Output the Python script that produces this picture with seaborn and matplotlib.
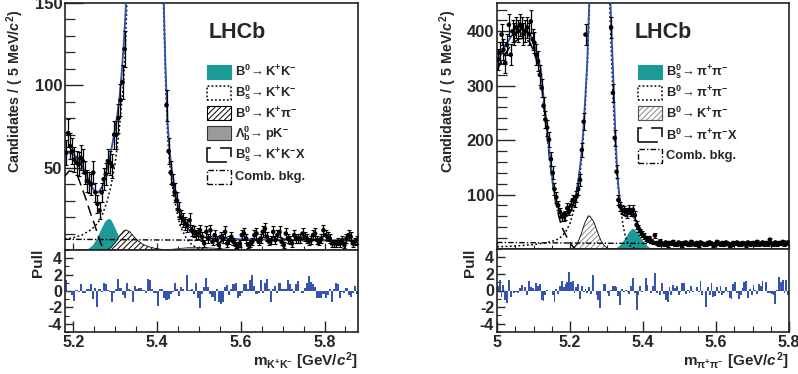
import numpy as np
import matplotlib
matplotlib.use("Agg")
import matplotlib.pyplot as plt
import seaborn as sns
from matplotlib.patches import Rectangle
from matplotlib.ticker import MultipleLocator, FormatStrFormatter

# ---------------- data : K+K- spectrum ----------------
kk_first_center = 5.1825
bin_width = 0.005
kk_counts = [
    59, 71, 63, 60, 55, 53, 52, 56, 54, 47, 42, 41, 40, 47, 35, 28, 24, 35, 43, 46,
    54, 53, 51, 70, 70, 80, 91, 102, 122,
    175, 240, 330, 450, 590, 740, 870, 960, 1000, 980, 900, 770, 620, 480, 370, 290,
    230, 185, 170,
    88, 60, 47, 40, 35, 30, 24, 20, 18, 16, 15, 18, 12, 11, 9, 10, 12, 8, 4, 11, 7, 12,
    5, 9, 6, 3, 8, 7, 11, 4, 6, 8,
    5, 3, 2, 4, 9, 10, 7, 3, 4, 5,
    9, 10, 5, 7, 11, 13, 8, 5, 6, 11,
    6, 9, 11, 5, 3, 10, 7, 6, 4, 9,
    7, 7, 7, 10, 8, 7, 5, 6, 9, 10,
    6, 5, 7, 12, 9, 8, 7, 4, 4, 4,
    5, 4, 6, 3, 7, 9, 8, 4, 5, 6,
]
kk_pull = [
    1.4, -0.1, 0.0, -0.5, -1.2, 0.1, -0.1, 0.8, -0.2, -0.3, 0.3, 0.2, 0.9, -1.0, 0.4,
    -2.0, 0.3, -0.1, 1.0, 0.9, 0.1, -0.1, -1.3, -0.3, 0.3, 1.5, 0.4, -0.5, -0.9, 1.0,
    0.2, 0.1, -1.4, 0.6, 0.2,
    0.4, 0.4, 0.1, -0.3, 1.5, 1.4, 0.3, -0.2, -0.3, -1.8, 0.2, 0.3, -0.8, -1.1, -1.0,
    -0.4, -0.1, 1.0, 0.3, -0.6, 0.5, 0.3, 0.0, 2.0, 0.1, 0.2,
    -0.4, 1.0, -0.9, -2.1, -0.4, 0.5, 1.6, 0.5, -0.4, -0.7, -1.2, 0.2,
    -1.4, -1.6, -1.4, 0.5, 0.7, -0.5, 0.3, 0.9, 1.0, -0.8, -0.6, -0.2, 0.8, 0.9, 0.2,
    1.3, 2.0, 0.6, -0.4, -0.3, 1.4, -0.2, 1.0, 1.5, 0.2, -1.4, 0.2, 0.6, -0.3, 1.0,
    0.3, 0.3, 0.3, 1.3, 0.8, 0.3,
    -0.3, 0.9, 1.2, 0.0, -0.3, 0.4, 1.0, 1.8, 1.1, 0.8, 0.5, -0.8, -0.9, -0.9, -0.4,
    -0.9, -0.5, 0.2, -1.3, 0.3, 1.0, 0.9, -0.8, -0.1, -0.2, 0.4, -0.5, -0.7, -0.2, 0.6,
    -0.4,
]
# fit curves (mass, candidates)
kk_total_m = [5.18, 5.19, 5.20, 5.21, 5.22, 5.23, 5.24, 5.25, 5.26, 5.27, 5.28, 5.29, 5.30,
              5.305, 5.31, 5.315, 5.32, 5.325, 5.33, 5.34, 5.36, 5.37, 5.38, 5.40, 5.41,
              5.415, 5.42, 5.425, 5.43, 5.435, 5.44, 5.445, 5.45, 5.455, 5.46, 5.47, 5.48,
              5.49, 5.50, 5.52, 5.55, 5.60, 5.70, 5.80, 5.88]
kk_total_y = [60, 59, 58, 56, 52, 46, 40, 36, 35, 39, 49, 60, 74,
              82, 92, 106, 124, 146, 190, 330, 950, 1050, 950, 360, 230,
              160, 112, 78, 60, 49, 41, 33, 27, 22, 19, 14, 11,
              9.2, 8.2, 7.4, 6.9, 6.5, 6.2, 6.0, 5.8]
kk_b0_m = [5.225, 5.235, 5.245, 5.255, 5.265, 5.275, 5.2835, 5.29, 5.30, 5.31, 5.32, 5.33, 5.34]
kk_b0_y = [0.0, 1.0, 3.0, 7.0, 12.5, 17.5, 19.3, 18.3, 13.0, 7.0, 2.8, 0.8, 0.0]
kk_bs_m = [5.18, 5.20, 5.22, 5.24, 5.25, 5.26, 5.27, 5.28, 5.29, 5.30, 5.31, 5.32, 5.325,
           5.33, 5.335, 5.34, 5.35, 5.365, 5.38, 5.395, 5.405, 5.41, 5.415, 5.42, 5.425,
           5.43, 5.435, 5.44, 5.445, 5.45, 5.455, 5.46, 5.47, 5.48, 5.49, 5.50, 5.52, 5.55]
kk_bs_y = [6.5, 7.5, 9, 12, 14, 17, 22, 29, 39, 53, 74, 102, 128,
           168, 225, 310, 560, 1000, 820, 430, 260, 200, 152, 104, 70,
           52, 42, 33, 26, 20, 15, 12, 7, 4, 2, 1, 0.3, 0.0]
kk_kpi_m = [5.28, 5.29, 5.30, 5.31, 5.32, 5.326, 5.335, 5.345, 5.355, 5.365, 5.38, 5.395, 5.41, 5.43]
kk_kpi_y = [0.0, 1.5, 4.5, 8.5, 11.5, 12.2, 11.0, 8.0, 5.5, 3.5, 2.0, 1.0, 0.4, 0.0]
kk_lb_m = [5.42, 5.45, 5.48, 5.51, 5.54, 5.57, 5.60]
kk_lb_y = [0.0, 0.8, 1.6, 1.6, 1.0, 0.4, 0.0]
kk_part_m = [5.18, 5.19, 5.20, 5.21, 5.22, 5.23, 5.24, 5.25, 5.26, 5.265, 5.27, 5.275]
kk_part_y = [45, 48, 47.5, 45, 38, 31, 23, 16, 8, 4.5, 1.5, 0.0]
kk_comb_m = [5.18, 5.30, 5.40, 5.50, 5.60, 5.70, 5.80, 5.88]
kk_comb_y = [6.5, 6.3, 6.1, 6.0, 5.9, 5.8, 5.7, 5.6]

# ---------------- data : pi+pi- spectrum ----------------
pp_first_center = 5.0025
pp_counts = [
    348, 361, 394, 366, 342, 375, 412, 357, 400, 395, 407, 400, 412, 407, 395, 400, 407,
    395, 418, 385, 379, 357, 345, 320, 296,
    263, 238, 223, 201, 165, 140, 110, 95, 80, 68, 59, 60, 62, 75, 70, 80, 90, 87, 96,
    110, 127, 182, 234, 394,
    520, 700, 950, 1200, 1400, 1550, 1600, 1550, 1400, 1150, 900, 700, 520,
    407, 287, 204, 142, 90, 78, 72, 70, 68, 66, 72, 68, 72, 62, 44, 38, 32, 27, 24, 20,
    17, 20, 15,
    12, 25, 11, 8, 14, 10, 9, 12, 7, 11,
    10, 13, 8, 9, 12, 10, 7, 11, 12, 9,
    8, 13, 10, 9, 11, 6, 12, 10, 9, 8,
    11, 12, 10, 7, 9, 13, 10, 8, 11, 9,
    12, 10, 6, 9, 11, 10, 12, 8, 9, 11,
    10, 7, 12, 9, 10, 11, 8, 13, 9, 10,
    12, 8, 11, 9, 17, 10, 9, 12, 8, 11,
    10, 13, 9, 11, 12,
]
pp_pull = [
    0.5, 1.3, -0.8, 0.7, -1.2, -1.5, 1.3, -0.8, -0.1, -0.3,
    -0.2, -0.3, 0.3, 0.7, -0.1, 0.4, -0.5, 1.1, 0.4, 0.3,
    0.1, 0.9, 0.5, 0.8, -1.2, -1.3, -0.5, 0.1, -0.1, 0.0,
    -0.6, -1.4, 0.2, -0.4, 0.5, 1.1, 0.4, 0.8, 1.0, 2.2,
    1.0, 1.1, -0.3, 0.4, 0.8, -1.0, 0.5, -0.2, 0.2, -0.3,
    0.4, -0.4, 1.9, 0.0, -0.5, -1.2, -2.1, 0.0, 0.8, 0.8,
    -0.3, -0.7, 0.1, 0.5, 0.6, 0.4, -0.7, -1.8, 0.2, -0.2,
    0.1, -0.2, -0.4, 0.6, 1.5, -0.3, -2.3, -0.5, 0.6, -0.2,
    -0.1, 1.5, 0.7, -0.1, -0.3, 0.5, 2.1, -0.3, -0.1, -0.6,
    0.9, -0.4, -1.1, -1.4, 0.4, -0.6, 0.7, 0.3, 0.6, -0.5,
    -0.2, 0.9, 0.9, -0.4, 0.1, -0.3, 0.6, -0.2, 0.0, 0.4,
    -0.2, 1.2, -0.5, -0.1, -2.0, 0.4, -0.6, 0.9, -0.8, -0.7,
    0.4, -0.3, 0.5, -0.6, -0.3, 0.4, -0.2, -0.9, -1.0, 0.8,
    1.0, -0.3, -1.0, -0.5, 0.3, 1.0, 1.2, -0.9, 0.2, -0.6,
    0.7, 0.1, -0.4, 0.8, 0.5, 1.2, -0.1, 1.0, -0.3, -0.3,
    -0.4, -0.6, -1.6, 0.1, 1.6, 1.0, 1.3, -0.3, 1.3, -0.6,
]
pp_total_m = [5.00, 5.02, 5.04, 5.06, 5.075, 5.09, 5.10, 5.11, 5.12, 5.13, 5.136, 5.145,
              5.154, 5.16, 5.168, 5.175, 5.186, 5.195, 5.205, 5.215, 5.223, 5.23, 5.236,
              5.242, 5.247, 5.253, 5.26, 5.28, 5.30, 5.306, 5.311, 5.316, 5.32, 5.325,
              5.33, 5.335, 5.34, 5.345, 5.355, 5.365, 5.375, 5.385, 5.39, 5.396, 5.405,
              5.415, 5.425, 5.44, 5.47, 5.55, 5.65, 5.80]
pp_total_y = [342, 370, 392, 402, 403, 396, 380, 358, 330, 262, 225, 170,
              115, 95, 75, 64, 59, 62, 72, 95, 127, 165, 213,
              280, 340, 460, 700, 1300, 700, 560, 450, 360, 290, 200,
              135, 98, 80, 73, 67, 64, 58, 46, 40, 33, 24,
              17, 13.5, 11.5, 10.5, 10, 9.6, 9.2]
pp_bs_m = [5.31, 5.32, 5.33, 5.34, 5.35, 5.36, 5.369, 5.375, 5.385, 5.395, 5.405, 5.415,
           5.425, 5.435]
pp_bs_y = [0.0, 1.0, 4.0, 10.0, 20.0, 31.0, 38.0, 37.0, 30.0, 19.0, 10.0, 4.0, 1.5, 0.0]
pp_b0_m = [5.00, 5.05, 5.10, 5.13, 5.15, 5.16, 5.17, 5.18, 5.19, 5.20, 5.21, 5.22, 5.227,
           5.235, 5.242, 5.248, 5.254, 5.26, 5.28, 5.30, 5.306, 5.31, 5.315, 5.32, 5.325,
           5.33, 5.335, 5.34, 5.345, 5.35, 5.355, 5.36, 5.37, 5.38, 5.40]
pp_b0_y = [4, 5.5, 8, 11, 14, 16, 19, 25, 34, 47, 70, 100, 133,
           190, 265, 345, 460, 650, 1200, 700, 520, 420, 330, 250, 175,
           125, 95, 68, 45, 28, 15, 9, 3, 1, 0]
pp_kpi_m = [5.20, 5.21, 5.22, 5.23, 5.24, 5.25, 5.255, 5.265, 5.275, 5.285, 5.295, 5.305, 5.315]
pp_kpi_y = [0.0, 2.0, 10.0, 26.0, 47.0, 61.0, 60.0, 50.0, 32.0, 15.0, 5.0, 1.0, 0.0]
pp_part_m = [5.00, 5.02, 5.04, 5.06, 5.075, 5.09, 5.10, 5.11, 5.12, 5.13, 5.14, 5.15,
             5.16, 5.168, 5.177, 5.186, 5.195, 5.205, 5.21, 5.215]
pp_part_y = [328, 356, 376, 386, 387, 380, 364, 343, 316, 250, 190, 132,
             88, 64, 41, 29, 17, 7, 3, 0]
pp_comb_m = [5.00, 5.20, 5.40, 5.60, 5.80]
pp_comb_y = [12.0, 11.0, 10.2, 9.6, 9.0]

# ---------------- style ----------------
sns.set_style("ticks")
plt.rcParams.update({
    "font.family": ["Liberation Sans", "DejaVu Sans"],
    "font.weight": "bold",
    "mathtext.fontset": "custom",
    "mathtext.rm": "Liberation Sans:bold",
    "mathtext.bf": "Liberation Sans:bold",
    "mathtext.sf": "Liberation Sans:bold",
    "mathtext.it": "Liberation Sans:bold:italic",
    "mathtext.default": "bf",
    "hatch.linewidth": 0.7,
    "axes.linewidth": 1.2,
    "axes.unicode_minus": False,
})

TEAL = "#1a9b98"
BLUE = "#2d4fae"
PULLBLUE = "#3553b0"
W, H = 798, 374

fig = plt.figure(figsize=(W / 100, H / 100), dpi=100)


def fig_axes(x0, y0, x1, y1):
    return fig.add_axes([x0 / W, 1 - y1 / H, (x1 - x0) / W, (y1 - y0) / H])


def draw_panel(ax, axp, first_center, counts, pulls, xlim, ylim, ymaj, ymin_,
               curves, fills):
    counts = np.asarray(counts, dtype=float)
    centers = first_center + bin_width * np.arange(len(counts))
    for kind, m, y, kw in fills:
        if kind == "solid":
            ax.fill_between(m, 0, y, color=kw["color"], lw=0, zorder=2)
        else:
            ax.fill_between(m, 0, y, facecolor="white", edgecolor=kw["hatch_color"],
                            hatch="//////", lw=0, zorder=2)
            ax.plot(m, y, color="black", lw=0.6, zorder=2.5)
    for m, y, kw in curves:
        sns.lineplot(x=m, y=y, ax=ax, sort=False, zorder=3, **kw)
    ax.errorbar(centers, counts, yerr=np.sqrt(counts), fmt="none", ecolor="black",
                elinewidth=0.9, capsize=1.2, capthick=0.8, zorder=4)
    sns.scatterplot(x=centers, y=counts, ax=ax, color="black", s=11,
                    edgecolor="none", zorder=5)
    ax.set_xlim(*xlim)
    ax.set_ylim(*ylim)
    ax.yaxis.set_major_locator(MultipleLocator(ymaj))
    ax.yaxis.set_minor_locator(MultipleLocator(ymin_))
    ax.xaxis.set_major_locator(MultipleLocator(0.2))
    ax.xaxis.set_minor_locator(MultipleLocator(0.05))
    ax.set_yticks([t for t in ax.get_yticks() if 0 < t <= ylim[1]])
    ax.tick_params(axis="y", which="major", direction="in", length=13, width=1.0,
                   labelsize=12, pad=2)
    ax.tick_params(axis="y", which="minor", direction="in", length=7, width=0.9)
    ax.tick_params(axis="x", which="major", direction="in", length=5, width=0.9,
                   labelbottom=False)
    ax.tick_params(axis="x", which="minor", direction="in", length=3, width=0.8)
    ax.set_xlabel("")
    ax.set_ylabel("")

    axp.bar(centers, pulls, width=bin_width, color=PULLBLUE, lw=0)
    axp.set_xlim(*xlim)
    axp.set_ylim(-5, 5)
    axp.set_yticks([-4, -2, 0, 2, 4])
    axp.yaxis.set_minor_locator(MultipleLocator(1))
    axp.xaxis.set_major_locator(MultipleLocator(0.2))
    axp.xaxis.set_minor_locator(MultipleLocator(0.05))
    axp.xaxis.set_major_formatter(FormatStrFormatter("%g"))
    axp.tick_params(axis="both", which="major", direction="in", labelsize=11.5, width=1.0)
    axp.tick_params(axis="y", which="major", length=6, pad=2)
    axp.tick_params(axis="y", which="minor", direction="in", length=3, width=0.8)
    axp.tick_params(axis="x", which="major", length=8, pad=2)
    axp.tick_params(axis="x", which="minor", direction="in", length=4, width=0.8)
    for a in (ax, axp):
        for s in a.spines.values():
            s.set_visible(True)
            s.set_color("#222222")


dotted = dict(color="black", lw=1.1, linestyle=(0, (1.2, 1.6)))
longdash = dict(color="black", lw=1.1, linestyle=(0, (7, 3.5)))
dashdot = dict(color="black", lw=1.0, linestyle=(0, (4, 1.5, 1, 1.5)))
total = dict(color=BLUE, lw=1.3)

# ---- left panel ----
axL = fig_axes(65, 3, 358, 250)
axLp = fig_axes(65, 250, 358, 332)
draw_panel(
    axL, axLp, kk_first_center, kk_counts, kk_pull, (5.18, 5.88), (0, 150), 50, 10,
    curves=[(kk_bs_m, kk_bs_y, dotted), (kk_part_m, kk_part_y, longdash),
            (kk_comb_m, kk_comb_y, dashdot), (kk_total_m, kk_total_y, total)],
    fills=[("solid", kk_lb_m, kk_lb_y, dict(color="#9a9a9a")),
           ("solid", kk_b0_m, kk_b0_y, dict(color=TEAL)),
           ("hatch", kk_kpi_m, kk_kpi_y, dict(hatch_color="black"))],
)
axL.plot(kk_lb_m, kk_lb_y, color="#333333", lw=0.6, zorder=2.6)

# ---- right panel ----
axR = fig_axes(497, 3, 789, 249)
axRp = fig_axes(497, 249, 789, 332)
draw_panel(
    axR, axRp, pp_first_center, pp_counts, pp_pull, (5.0, 5.8), (0, 452), 100, 20,
    curves=[(pp_b0_m, pp_b0_y, dotted), (pp_part_m, pp_part_y, longdash),
            (pp_comb_m, pp_comb_y, dashdot), (pp_total_m, pp_total_y, total)],
    fills=[("solid", pp_bs_m, pp_bs_y, dict(color=TEAL)),
           ("hatch", pp_kpi_m, pp_kpi_y, dict(hatch_color="#8a8a8a"))],
)

# ---- axis titles ----
ylab = r"Candidates / ( 5 MeV/$\mathit{c}^{2}$)"
fig.text(15 / W, 1 - 91 / H, ylab, rotation=90, ha="center", va="center", fontsize=10.3)
fig.text(448 / W, 1 - 91 / H, ylab, rotation=90, ha="center", va="center", fontsize=10.3)
fig.text(38 / W, 1 - 263 / H, "Pull", rotation=90, ha="center", va="center", fontsize=11)
fig.text(470 / W, 1 - 263 / H, "Pull", rotation=90, ha="center", va="center", fontsize=11)
fig.text(358 / W, 1 - 361 / H, r"m$_{K^{+}K^{-}}$ [GeV/$\mathit{c}^{2}$]", ha="right",
         va="center", fontsize=11)
fig.text(789 / W, 1 - 361 / H, r"m$_{\pi^{+}\pi^{-}}$ [GeV/$\mathit{c}^{2}$]", ha="right",
         va="center", fontsize=11)
fig.text(237 / W, 1 - 33 / H, "LHCb", ha="center", va="center", fontsize=15.5)
fig.text(663 / W, 1 - 33 / H, "LHCb", ha="center", va="center", fontsize=15.5)


# ---- legends ----
def legend_box(x, yc, style):
    w, h = 24, 14
    rect_kw = dict(transform=fig.transFigure, figure=fig)
    xy = (x / W, 1 - (yc + h / 2) / H)
    ww, hh = w / W, h / H
    if style == "teal":
        r = Rectangle(xy, ww, hh, facecolor=TEAL, edgecolor=TEAL, lw=0.8, **rect_kw)
    elif style == "gray":
        r = Rectangle(xy, ww, hh, facecolor="#9a9a9a", edgecolor="#333333", lw=0.8, **rect_kw)
    elif style == "hatch":
        r = Rectangle(xy, ww, hh, facecolor="white", edgecolor="black", hatch="//////",
                      lw=0.8, **rect_kw)
    elif style == "hatchgray":
        r = Rectangle(xy, ww, hh, facecolor="white", edgecolor="#8a8a8a", hatch="//////",
                      lw=0.8, **rect_kw)
    elif style == "dotted":
        r = Rectangle(xy, ww, hh, fill=False, edgecolor="black", lw=1.1,
                      linestyle=(0, (1.2, 1.4)), **rect_kw)
    elif style == "dash":
        r = Rectangle(xy, ww, hh, fill=False, edgecolor="black", lw=1.1,
                      linestyle=(0, (13, 6)), **rect_kw)
    else:
        r = Rectangle(xy, ww, hh, fill=False, edgecolor="black", lw=1.0,
                      linestyle=(0, (4, 1.5, 1, 1.5)), **rect_kw)
    fig.patches.append(r)
    if style == "hatchgray":
        fig.patches.append(Rectangle(xy, ww, hh, fill=False, edgecolor="#555555", lw=0.8,
                                     **rect_kw))


left_entries = [
    ("teal", r"$B^{0}\!\rightarrow K^{+}K^{-}$"),
    ("dotted", r"$B^{0}_{s}\!\rightarrow K^{+}K^{-}$"),
    ("hatch", r"$B^{0}\!\rightarrow K^{+}\pi^{-}$"),
    ("gray", r"$\Lambda^{0}_{b}\!\rightarrow pK^{-}$"),
    ("dash", r"$B^{0}_{s}\!\rightarrow K^{+}K^{-}X$"),
    ("dashdot", "Comb. bkg."),
]
right_entries = [
    ("teal", r"$B^{0}_{s}\!\rightarrow \pi^{+}\pi^{-}$"),
    ("dotted", r"$B^{0}\!\rightarrow \pi^{+}\pi^{-}$"),
    ("hatchgray", r"$B^{0}\!\rightarrow K^{+}\pi^{-}$"),
    ("dash", r"$B^{0}\!\rightarrow \pi^{+}\pi^{-}X$"),
    ("dashdot", "Comb. bkg."),
]
left_rows = [71.7, 92.7, 113.3, 133.3, 155.0, 176.7]
right_rows = [71.7, 92.7, 113.3, 135.0, 156.0]
for (style, label), yc in zip(left_entries, left_rows):
    legend_box(207, yc, style)
    fig.text(235 / W, 1 - yc / H, label, ha="left", va="center", fontsize=9.3)
for (style, label), yc in zip(right_entries, right_rows):
    legend_box(638, yc, style)
    fig.text(666 / W, 1 - yc / H, label, ha="left", va="center", fontsize=9.3)

fig.savefig("out.png", dpi=100)
